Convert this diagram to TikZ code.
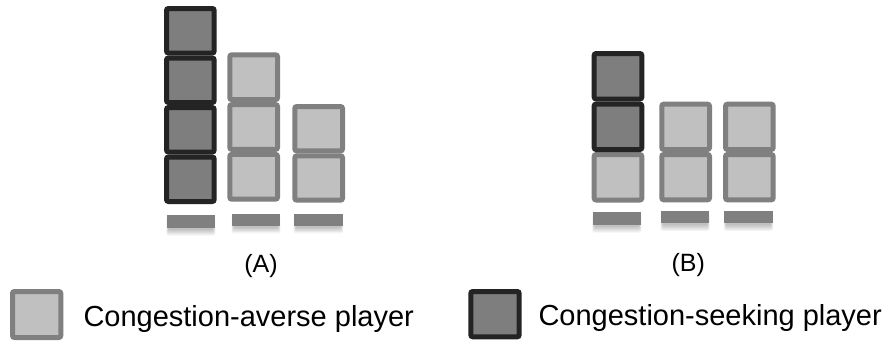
\documentclass[tikz,border=0pt]{standalone}
\usepackage{fontspec}
\setmainfont{Liberation Sans}
\definecolor{lightfill}{HTML}{C0C0C0}
\definecolor{midgray}{HTML}{808080}
\definecolor{darkline}{HTML}{242424}
\definecolor{darkfill}{HTML}{7E7E7E}
\newcommand{\barshade}[4]{%
  \foreach \k in {1,...,6}{%
    \fill[black,opacity=0.045,rounded corners=2pt] ({#1+2-\k*0.4},{#2+2}) rectangle ({#3-2+\k*0.4},{#4+1+\k*1.1});
  }%
}
\begin{document}
\begin{tikzpicture}[x=1pt,y=-1pt,
  cellbase/.style={line width=5pt,rounded corners=2pt,inner sep=0pt,outer sep=0pt,minimum width=47.7pt},
  lightcell/.style={cellbase,draw=midgray,fill=lightfill},
  darkcell/.style={cellbase,draw=darkline,fill=darkfill},
  barbox/.style={fill=midgray,draw=none,inner sep=0pt,outer sep=0pt},
  lbl/.style={font=\fontsize{25}{30}\selectfont,inner sep=0pt},
  legtext/.style={font=\fontsize{29}{34}\selectfont,inner sep=0pt,anchor=base west}]
\useasboundingbox (0,0) rectangle (887,341);
\fill[white] (0,0) rectangle (887,341);
% ---- (A) ----
\node[darkcell,minimum height=44.5pt] (a11) at (190.35,30.75) {};
\node[darkcell,minimum height=44.5pt] (a12) at (190.35,80.25) {};
\node[darkcell,minimum height=44.5pt] (a13) at (190.35,129.75) {};
\node[darkcell,minimum height=44.5pt] (a14) at (190.35,179.25) {};
\node[lightcell,minimum height=44.8pt] (a21) at (253.65,77.2) {};
\node[lightcell,minimum height=44.8pt] (a22) at (253.65,127) {};
\node[lightcell,minimum height=44.8pt] (a23) at (253.65,176.8) {};
\node[lightcell,minimum height=44.35pt] (a31) at (318.65,128.7) {};
\node[lightcell,minimum height=44.35pt] (a32) at (318.65,178.0) {};
\barshade{166.7}{215}{215}{228}
\barshade{232}{213.7}{280}{225.7}
\barshade{294}{213.7}{342.7}{225.7}
\node[barbox,minimum width=48.3pt,minimum height=13pt] (abar1) at (190.85,221.5) {};
\node[barbox,minimum width=48pt,minimum height=12pt] (abar2) at (256,219.7) {};
\node[barbox,minimum width=48.7pt,minimum height=12pt] (abar3) at (318.35,219.7) {};
\node[lbl] (labA) at (261,266) {(A)};
% ---- (B) ----
\node[lightcell,minimum height=45.5pt] (b13) at (618,177.25) {};
\node[darkcell,minimum height=45.5pt] (b12) at (618,126.75) {};
\node[darkcell,minimum height=45.5pt] (b11) at (618,76.25) {};
\node[lightcell,minimum height=45.3pt] (b21) at (685.65,126.85) {};
\node[lightcell,minimum height=45.3pt] (b22) at (685.65,177.15) {};
\node[lightcell,minimum height=45.3pt] (b31) at (749.35,126.85) {};
\node[lightcell,minimum height=45.3pt] (b32) at (749.35,177.15) {};
\barshade{592.7}{212.3}{641}{225}
\barshade{661}{211}{709.3}{223.3}
\barshade{724.3}{211}{772.7}{223.3}
\node[barbox,minimum width=48.3pt,minimum height=12.7pt] (bbar1) at (616.85,218.65) {};
\node[barbox,minimum width=48.3pt,minimum height=12.3pt] (bbar2) at (685.15,217.15) {};
\node[barbox,minimum width=48.4pt,minimum height=12.3pt] (bbar3) at (748.5,217.15) {};
\node[lbl] (labB) at (688.3,265) {(B)};
% ---- legend ----
\node[lightcell,minimum width=48.3pt,minimum height=46pt] (legL) at (36.65,314.5) {};
\node[legtext] (legLt) at (83.3,326.5) {Congestion-averse player};
\node[darkcell,minimum width=48.4pt,minimum height=45.3pt] (legD) at (495,314.15) {};
\node[legtext] (legDt) at (538.3,325.7) {Congestion-seeking player};
\end{tikzpicture}
\end{document}
